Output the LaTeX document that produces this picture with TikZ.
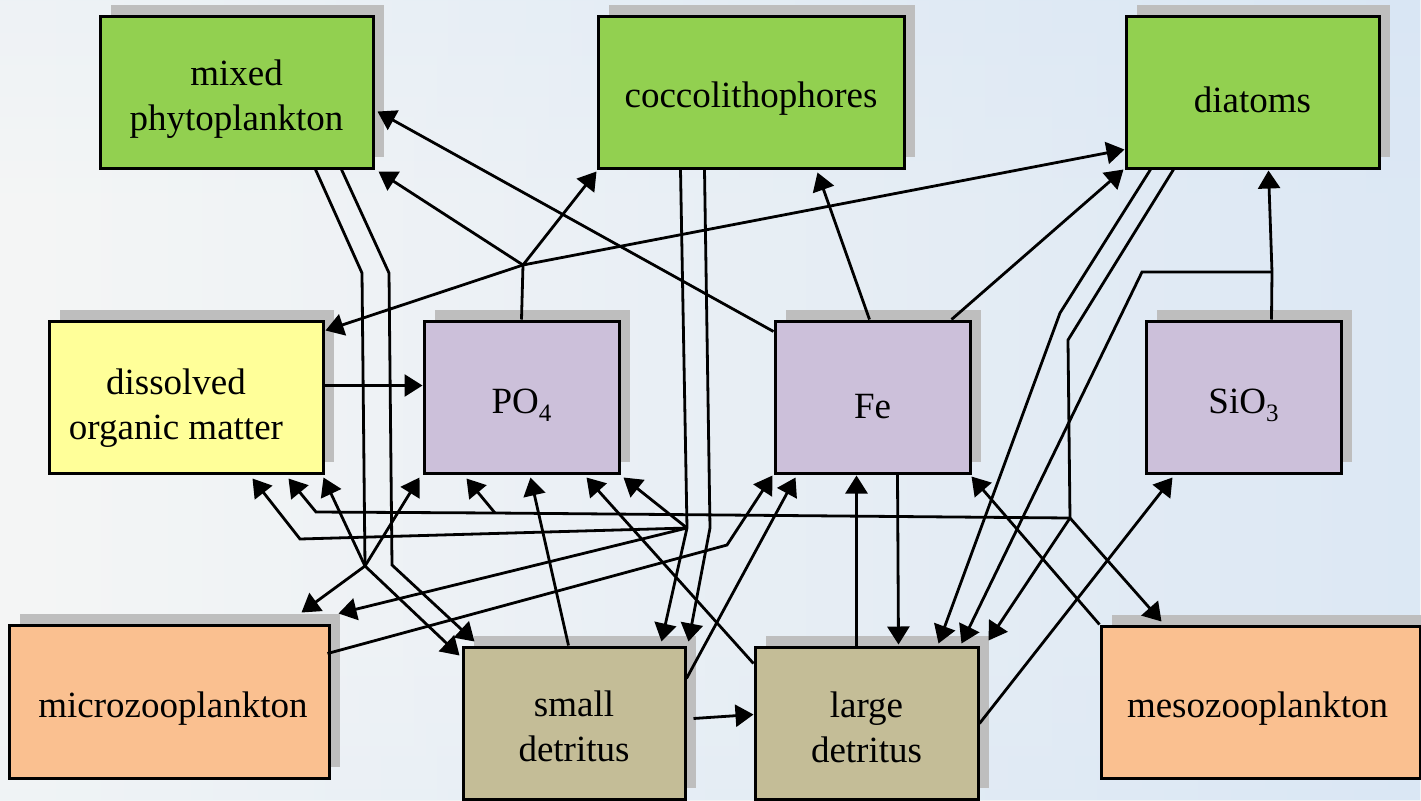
\documentclass[tikz,border=0pt]{standalone}
\usepackage{fontspec}
\setmainfont{Liberation Serif}
\usetikzlibrary{arrows.meta,calc,shadows,fadings}
\definecolor{phyto}{RGB}{146,208,80}
\definecolor{domc}{RGB}{255,255,153}
\definecolor{nut}{RGB}{204,192,218}
\definecolor{det}{RGB}{196,189,151}
\definecolor{zoo}{RGB}{250,192,144}
\definecolor{shd}{RGB}{190,190,190}
\definecolor{skytop}{RGB}{226,236,246}
\definecolor{skymid}{RGB}{245,246,246}
\definecolor{skybot}{RGB}{228,238,245}
\definecolor{skyblue}{RGB}{196,218,242}
\pgfdeclareverticalshading{skyshade}{100bp}{color(0bp)=(skybot); color(35bp)=(skymid); color(62bp)=(skymid); color(100bp)=(skytop)}
\newcommand{\sub}[1]{\raisebox{-4pt}{\fontsize{12.5}{12.5}\selectfont #1}}
\begin{document}
\begin{tikzpicture}[x=0.5pt,y=-0.5pt,
  box/.style={draw=black, line width=1.5pt, inner sep=0pt,
    drop shadow={shadow xshift=5.5pt, shadow yshift=5.5pt, fill=shd, opacity=1}},
  txt/.style={inner sep=0pt, align=center, font=\fontsize{18.5}{22.5}\selectfont},
  link/.style={line width=1.4pt, line join=miter},
  arr/.style={link, -{Triangle[length=9pt,width=11pt]}}]
\useasboundingbox (0,0) rectangle (1421,800);
\shade[shading=skyshade] (0,0) rectangle (1421,800);
\fill[skyblue, path fading=west, opacity=0.5] (0,0) rectangle (1421,800);

% boxes
\node[box, fill=phyto, minimum width=136.5pt, minimum height=76pt] (mix) at (236.5,92) {};
\node[box, fill=phyto, minimum width=153pt, minimum height=76pt] (coc) at (751,92) {};
\node[box, fill=phyto, minimum width=126.5pt, minimum height=76pt] (dia) at (1252.5,92) {};
\node[box, fill=domc, minimum width=137pt, minimum height=76pt] (dom) at (186,397) {};
\node[box, fill=nut, minimum width=97.5pt, minimum height=76pt] (po4) at (521.5,397) {};
\node[box, fill=nut, minimum width=97.5pt, minimum height=76pt] (fe) at (872.5,397) {};
\node[box, fill=nut, minimum width=97.5pt, minimum height=76pt] (sio) at (1243.5,397) {};
\node[box, fill=zoo, minimum width=160pt, minimum height=76.5pt] (mic) at (169,701.5) {};
\node[box, fill=det, minimum width=111pt, minimum height=76pt] (sd) at (574,723) {};
\node[box, fill=det, minimum width=111.5pt, minimum height=76pt] (ld) at (866.5,723) {};
\node[box, fill=zoo, minimum width=159.5pt, minimum height=76pt] (mes) at (1260.5,702) {};

% texts
\node[txt] (mix-t) at ($(mix.center)+(0,7)$) {mixed\\phytoplankton};
\node[txt] (coc-t) at ($(coc.center)+(0,7)$) {coccolithophores};
\node[txt] (dia-t) at ($(dia.center)+(0,8)$) {diatoms};
\node[txt] (dom-t) at ($(dom.center)+(-10,11)$) {dissolved\\organic matter};
\node[txt] (po4-t) at ($(po4.center)+(0,8)$) {PO\sub{4}};
\node[txt] (fe-t) at ($(fe.center)+(0,10)$) {Fe};
\node[txt] (sio-t) at ($(sio.center)+(0,8)$) {SiO\sub{3}};
\node[txt] (mic-t) at ($(mic.center)+(4,7)$) {microzooplankton};
\node[txt] (sd-t) at ($(sd.center)+(0,3)$) {small\\detritus};
\node[txt] (ld-t) at ($(ld.center)+(0,4)$) {large\\detritus};
\node[txt] (mes-t) at ($(mes.center)+(-3,7)$) {mesozooplankton};

% junctions and bends
\coordinate (J1) at (365,566);
\coordinate (J3) at (1070,518);
\coordinate (J4) at (1272,272);
\coordinate (J5) at (523,265);
\coordinate (J6) at (687,528);
\coordinate (J7) at (495,513);
\coordinate (B1a) at (362,273);
\coordinate (B1b) at (389,273);
\coordinate (B1c) at (392,565);
\coordinate (Bd1) at (316,512);
\coordinate (Bd2) at (300,539);
\coordinate (B6) at (710,528);
\coordinate (Bm) at (727,545);
\coordinate (BA) at (1060,313);
\coordinate (BB) at (1068,340);
\coordinate (BC) at (1142,272);

% connectors
\draw[link] ($(mix.south west)+(217,0)$) -- (B1a) -- (J1);
\draw[arr] (J1) -- ($(mic.north west)+(294,-11)$);
\draw[arr] (J1) -- ($(sd.north west)+(-2,10)$);
\draw[arr] (J1) -- ($(dom.south east)+(-1,3)$);
\draw[arr] (J1) -- ($(po4.south west)+(-3,3)$);
\draw[arr] ($(mix.south west)+(243,0)$) -- (B1b) -- (B1c) -- ($(sd.north west)+(13,-4)$);
\draw[link] ($(po4.north west)+(99,0)$) -- (J5);
\draw[arr] (J5) -- ($(mix.south east)+(4,2)$);
\draw[arr] (J5) -- ($(coc.south west)+(0,2)$);
\draw[arr] (J5) -- ($(dia.south west)+(0,-20)$);
\draw[arr] (J5) -- ($(dom.north east)+(1,11)$);
\draw[link] ($(coc.south west)+(84,0)$) -- (J6);
\draw[arr] (J6) -- ($(sd.north west)+(200,-4)$);
\draw[arr] (J6) -- ($(po4.south east)+(3,3)$);
\draw[arr] (J6) -- (Bd2) -- ($(dom.south west)+(205,4)$);
\draw[arr] (J6) -- ($(mic.north west)+(331,-10)$);
\draw[arr] ($(coc.south west)+(108,0)$) -- (B6) -- ($(sd.north east)+(2,-4)$);
\draw[arr] ($(mic.north west)+(320,30)$) -- (Bm) -- ($(fe.south west)+(-1,1)$);
\draw[arr] ($(sd.north east)+(0,33)$) -- ($(fe.south west)+(22,3)$);
\draw[arr] ($(sd.north west)+(107,0)$) -- ($(po4.south west)+(108,3)$);
\draw[arr] ($(ld.north west)+(0,18)$) -- ($(po4.south west)+(164,3)$);
\draw[arr] ($(sd.north east)+(7,73)$) -- ($(ld.north west)+(0,69)$);
\draw[arr] ($(ld.north west)+(103,0)$) -- ($(fe.south west)+(83,1)$);
\draw[arr] ($(fe.south west)+(124,0)$) -- ($(ld.north west)+(145,-1)$);
\draw[arr] ($(fe.north west)+(96,0)$) -- ($(coc.south west)+(221,3)$);
\draw[arr] ($(fe.north west)+(178,0)$) -- ($(dia.south west)+(-1,0)$);
\draw[arr] ($(fe.north west)+(0,12)$) -- ($(mix.north east)+(3,97)$);
\draw[arr] ($(dia.south west)+(26,0)$) -- (BA) -- ($(ld.north west)+(185,-2)$);
\draw[link] ($(dia.south west)+(49,0)$) -- (BB) -- (J3);
\draw[arr] (J3) -- ($(ld.north east)+(9,-5)$);
\draw[arr] (J3) -- ($(mes.north west)+(62,-3)$);
\draw[arr] (J3) -- (J7) -- (Bd1) -- ($(dom.south west)+(241,4)$);
\draw[arr] (J7) -- ($(po4.south west)+(44,4)$);
\draw[link] ($(sio.north west)+(127,0)$) -- (J4);
\draw[arr] (J4) -- ($(dia.south west)+(144,1)$);
\draw[arr] (J4) -- (BC) -- ($(ld.north west)+(208,-2)$);
\draw[arr] (mes.north west) -- ($(fe.south east)+(0,2)$);
\draw[arr] ($(ld.north east)+(0,78)$) -- ($(sio.south west)+(28,3)$);
\draw[arr] ($(dom.north east)+(0,66)$) -- ($(po4.north west)+(0,66)$);
\end{tikzpicture}
\end{document}
